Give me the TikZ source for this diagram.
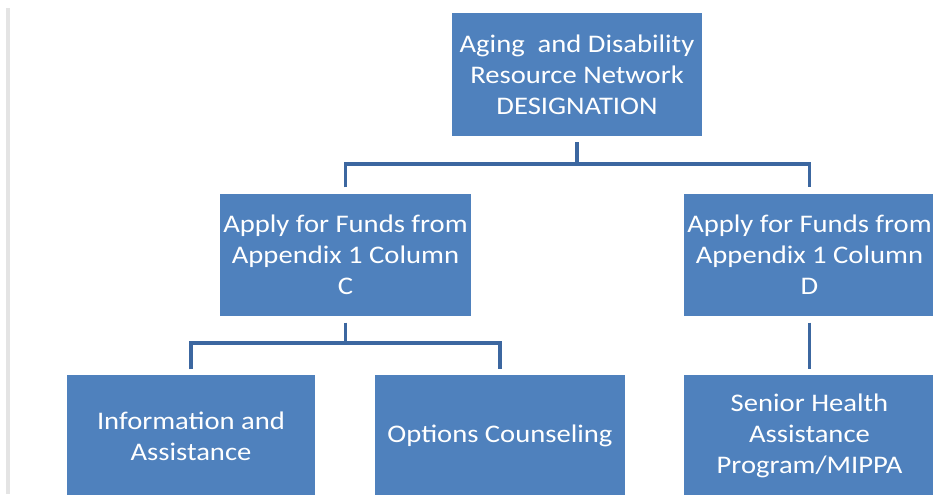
\documentclass[tikz,border=0pt]{standalone}
\usepackage{fontspec}
\newfontfamily\boxfont[FakeStretch=1.13]{Carlito}
\definecolor{boxblue}{HTML}{4F81BD}
\definecolor{linkblue}{HTML}{3C67A0}
\definecolor{edgegray}{HTML}{E4E4E4}
\begin{document}
\begin{tikzpicture}[x=0.75pt,y=-0.75pt,
  orgbox/.style={rectangle, fill=boxblue, text=white, inner sep=0pt,
    minimum width=187.5pt, minimum height=92pt, align=center,
    font=\boxfont\fontsize{19}{23.25}\selectfont},
  conn/.style={draw=linkblue, line width=2.4pt}]
\useasboundingbox (0,0) rectangle (933,494);
\clip (0,0) rectangle (933,494);
\fill[white] (0,0) rectangle (933,494);
\fill[edgegray] (6,8) rectangle (10,494);
\node[orgbox] (top) at (577,74.5) {Aging\ \ and Disability\\Resource Network\\DESIGNATION};
\node[orgbox, minimum width=188pt] (midL) at (345.5,255) {Apply for Funds from\\Appendix 1 Column\\C};
\node[orgbox, minimum width=188pt] (midR) at (809.5,255) {Apply for Funds from\\Appendix 1 Column\\D};
\node[orgbox, minimum width=186pt] (botL) at (191,436) {Information and\\Assistance};
\node[orgbox] (botM) at (500,436) {Options Counseling};
\node[orgbox, minimum width=188pt] (botR) at (809.5,436) {Senior Health\\Assistance\\Program/MIPPA};
\coordinate (j1) at (577,164);
\coordinate (j2) at (345.5,343);
\draw[conn] ([yshift=-4.5pt]top.south) -- (j1);
\draw[conn] ([yshift=4.5pt]midL.north) |- (j1) -| ([yshift=4.5pt]midR.north);
\draw[conn] ([yshift=-4.5pt]midL.south) -- (j2);
\draw[conn] ([yshift=3.75pt]botL.north) |- (j2) -| ([yshift=3.75pt]botM.north);
\draw[conn] ([yshift=-4.5pt]midR.south) -- ([yshift=3.75pt]botR.north);
\end{tikzpicture}
\end{document}
